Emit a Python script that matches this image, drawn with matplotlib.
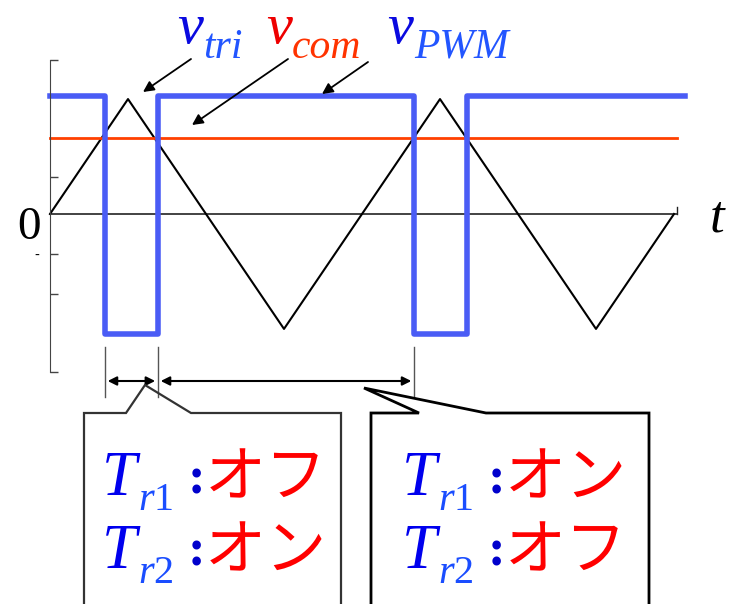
import matplotlib
matplotlib.use("Agg")
import matplotlib.pyplot as plt
from matplotlib.patches import Polygon
from matplotlib.transforms import blended_transform_factory

W, H = 729, 604

# time in carrier periods, voltage normalised to carrier peak
tri_t = [0, 0.25, 0.75, 1.25, 1.75, 2.0]
tri_v = [0, 1, -1, 1, -1, 0]
com_t = [0, 2.01]
com_v = [0.66, 0.66]
pwm_t = [0, 0.176, 0.346, 1.167, 1.337, 2.035]
pwm_v = [1.025, -1.04, 1.025, -1.04, 1.025, 1.025]
zero_t = [0, 2.01]
ytick_pos = [1.34, 0.32, -0.35, -0.70, -1.375]
ytick_lab = ['', '', '-', '', '']

sub_digits = ['1', '2']
box1_states = ['オフ', 'オン']
box2_states = ['オン', 'オフ']

SERIF = 'Liberation Serif'
JP = 'Noto Sans CJK JP'
plt.rcParams['mathtext.fontset'] = 'custom'
plt.rcParams['mathtext.rm'] = 'Liberation Serif'
plt.rcParams['mathtext.it'] = 'Liberation Serif:italic'

fig = plt.figure(figsize=(W / 100, H / 100), dpi=100)
ax = fig.add_axes([50 / W, (H - 372) / H, 630 / W, 312 / H])

def px(x, y):
    # pixel position (from top-left) -> figure fraction
    return (x / W, 1 - y / H)

ax.plot(zero_t, [0, 0], color='#222222', lw=1.2, clip_on=False)
ax.plot(tri_t, tri_v, color='black', lw=1.5, clip_on=False)
ax.plot(com_t, com_v, color='#ff4000', lw=2, clip_on=False)
ax.plot(pwm_t, pwm_v, color='#4a5cf5', lw=4, drawstyle='steps-post', clip_on=False)
# small tick at the end of the time axis
ax.plot([zero_t[1], zero_t[1]], [0, 0.06], color='#222222', lw=1, clip_on=False)

for s in ['top', 'right', 'bottom']:
    ax.spines[s].set_visible(False)
ax.spines['left'].set_color('#444444')
ax.set_xticks([])
ax.set_yticks(ytick_pos)
ax.set_yticklabels(ytick_lab)
ax.tick_params(axis='y', direction='in', length=6, width=1, color='#444444',
               labelsize=10, pad=8)
ax.set_xlim(0, 630 / 312)
ax.set_ylim(-1.375, 1.34)
ax.patch.set_visible(False)

def put(x, y, s, **kw):
    fig.text(*px(x, y), s, va='baseline', family=kw.pop('family', SERIF), **kw)

# signal labels
put(177, 43, r'$v$', size=42, color='#0a0ae0')
put(203, 58, 'tri', style='italic', size=30, color='#2255ff')
put(266, 43, r'$v$', size=42, color='#ee0000')
put(292, 58, 'com', style='italic', size=30, color='#ff3300')
put(387, 43, r'$v$', size=42, color='#0a0ae0')
put(414, 58, 'PWM', style='italic', size=30, color='#2255ff')

fig.text(*px(29, 228), '0', family=SERIF, size=34, ha='center', va='center')
put(709, 232, r'$t$', size=38)

arrow_kw = dict(arrowstyle='-|>', color='black', lw=1.3, mutation_scale=16,
                shrinkA=0, shrinkB=0)
for src, dst in [((191, 59), (143, 92)), ((288, 59), (192, 125)),
                 ((368, 62), (322, 94))]:
    ax.annotate('', xy=px(*dst), xycoords='figure fraction',
                xytext=px(*src), textcoords='figure fraction',
                arrowprops=arrow_kw)

# interval markers below the plot
trans = blended_transform_factory(ax.transData, fig.transFigure)
y_top, y_bot = 1 - 347 / H, 1 - 397 / H
for t in pwm_t[1:4]:
    ax.plot([t, t], [y_top, y_bot], color='#555555', lw=1, transform=trans,
            clip_on=False)
y_arr = 1 - 381 / H
dim_kw = dict(arrowstyle='<|-|>', color='black', lw=1.5, mutation_scale=13,
              shrinkA=2, shrinkB=2)
ax.annotate('', xy=(pwm_t[2], y_arr), xycoords=trans,
            xytext=(pwm_t[1], y_arr), textcoords=trans, arrowprops=dim_kw)
ax.annotate('', xy=(pwm_t[3], y_arr), xycoords=trans,
            xytext=(pwm_t[2], y_arr), textcoords=trans, arrowprops=dim_kw)

# callout boxes
box1 = [(84, 610), (84, 413), (126, 413), (145, 385), (191, 413), (341, 413), (341, 610)]
box2 = [(371, 610), (371, 413), (419, 413), (364, 388), (486, 413), (649, 413), (649, 610)]
fig.add_artist(Polygon([px(*p) for p in box1], closed=False, fill=False,
                       ec='#333333', lw=1.6, transform=fig.transFigure))
fig.add_artist(Polygon([px(*p) for p in box2], closed=False, fill=False,
                       ec='black', lw=2, transform=fig.transFigure))

def box_text(x0, states):
    for i, (d, st) in enumerate(zip(sub_digits, states)):
        yb = 495 + i * 73
        put(x0, yb, r'$T$', size=45, color='#0000ee')
        put(x0 + 37, yb + 15, r'$r\mathrm{%s}$' % d, size=29, color='#1a4dff')
        put(x0 + 87, yb - 2, ':', size=38, weight='bold', color='#0000cc')
        put(x0 + 104, yb + 1, st, family=JP, size=44, color='#ff0000')

box_text(101, box1_states)
box_text(401, box2_states)

fig.savefig('out.png', dpi=100)
